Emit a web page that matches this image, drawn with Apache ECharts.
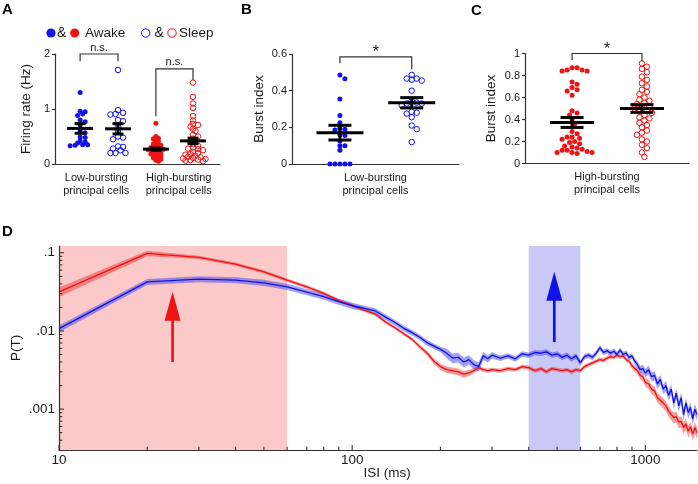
<!DOCTYPE html>
<html><head><meta charset="utf-8">
<script src="https://cdn.jsdelivr.net/npm/echarts@6/dist/echarts.min.js"></script>
<style>html,body{margin:0;padding:0;background:#fff}#c{width:698px;height:484px}</style>
</head><body><div id="c"></div>
<script>
// ---------------- DATA ----------------
const categoriesA = ['Low-bursting\nprincipal cells', 'High-bursting\nprincipal cells'];
const categoriesB = ['Low-bursting\nprincipal cells'];
const categoriesC = ['High-bursting\nprincipal cells'];

// Panel A: firing rate (Hz)
const lowAwakeRate  = [1.3, 0.96, 0.95, 0.91, 0.88, 0.8, 0.77, 0.71, 0.6, 0.57, 0.49, 0.48, 0.42, 0.4, 0.38, 0.35, 0.35, 0.34, 0.33];
const lowSleepRate  = [1.71, 0.98, 0.93, 0.91, 0.9, 0.8, 0.78, 0.68, 0.6, 0.5, 0.48, 0.45, 0.32, 0.31, 0.28, 0.25, 0.2, 0.2, 0.2];
const highAwakeRate = [0.74, 0.5, 0.47, 0.46, 0.43, 0.41, 0.38, 0.37, 0.35, 0.34, 0.33, 0.31, 0.3, 0.3, 0.29, 0.28, 0.27, 0.26, 0.26, 0.25, 0.24, 0.22, 0.21, 0.2, 0.19, 0.18, 0.17, 0.16, 0.15, 0.14, 0.12, 0.11, 0.1, 0.08, 0.07, 0.05];
const highSleepRate = [1.48, 1.22, 1.1, 1.02, 0.87, 0.79, 0.73, 0.71, 0.68, 0.64, 0.6, 0.53, 0.5, 0.46, 0.42, 0.4, 0.36, 0.33, 0.3, 0.28, 0.27, 0.25, 0.22, 0.2, 0.18, 0.17, 0.15, 0.13, 0.12, 0.1, 0.09, 0.07, 0.06, 0.05, 0.08, 0.11];
const rateMean = [0.647, 0.64, 0.27, 0.42];
const rateSem  = [0.088, 0.094, 0.02, 0.05];

// Panel B: burst index, low-bursting cells
const lowAwakeBurst = [0.485, 0.465, 0.355, 0.265, 0.225, 0.195, 0.19, 0.185, 0.16, 0.155, 0.125, 0.1, 0.1, 0.075, 0, 0, 0, 0, 0];
const lowSleepBurst = [0.486, 0.466, 0.46, 0.455, 0.466, 0.4, 0.345, 0.335, 0.33, 0.33, 0.32, 0.285, 0.28, 0.275, 0.255, 0.21, 0.19, 0.12];
const burstLowMean = [0.171, 0.334];
const burstLowSem  = [0.04, 0.028];

// Panel C: burst index, high-bursting cells
const highAwakeBurst = [0.87, 0.87, 0.85, 0.85, 0.84, 0.84, 0.74, 0.72, 0.69, 0.67, 0.66, 0.62, 0.48, 0.46, 0.44, 0.4, 0.36, 0.29, 0.27, 0.24, 0.24, 0.23, 0.22, 0.2, 0.19, 0.18, 0.16, 0.15, 0.14, 0.13, 0.12, 0.12, 0.11, 0.1, 0.1, 0.1, 0.09];
const highSleepBurst = [0.91, 0.88, 0.86, 0.83, 0.79, 0.76, 0.73, 0.7, 0.67, 0.65, 0.63, 0.6, 0.58, 0.57, 0.55, 0.54, 0.52, 0.51, 0.5, 0.48, 0.47, 0.46, 0.44, 0.42, 0.41, 0.39, 0.37, 0.35, 0.33, 0.3, 0.28, 0.26, 0.22, 0.2, 0.17, 0.14, 0.1, 0.06];
const burstHighMean = [0.373, 0.5];
const burstHighSem  = [0.045, 0.035];

// significance brackets: [x1 group, x2 group, top, left end, right end]
const bracketsA = [[0, 1, 2.0, 1.87, 1.87], [2, 3, 1.73, 0.87, 1.53]];
const bracketLabelsA = ['n.s.', 'n.s.'];
const bracketsB = [[0, 1, 0.584, 0.549, 0.517]];
const bracketLabelsB = ['*'];
const bracketsC = [[0, 1, 1.0, 0.94, 0.93]];
const bracketLabelsC = ['*'];

// Panel D: ISI distributions
const isi = [10,20,30,40,50,60,70,80,90,100,110,120,130,140,150,160,170,180,190,200,210,220,230,240,250,260,270,280,290,300,
  320,340,360,380,400,420,440,460,480,500,520,540,560,580,600,620,640,660,680,700,720,740,760,780,800,820,840,860,880,900,920,940,960,980,1000,
  1025,1050,1075,1100,1125,1150,1175,1200,1225,1250,1275,1300,1325,1350,1375,1400,1425,1450,1475,1500];
const pLow = [0.0107,0.0425,0.046,0.0447,0.0413,0.0367,0.0314,0.0275,0.0237,0.021,
  0.0195,0.018,0.015,0.0128,0.0108,0.0095,0.0083,0.0071,0.0064,0.0058,
  0.0052,0.0045,0.0046,0.004,0.0043,0.0037,0.0035,0.0048,0.0044,0.0049,
  0.0045,0.0048,0.0044,0.0051,0.0049,0.0053,0.0052,0.0054,0.0049,0.0051,
  0.0046,0.0049,0.0044,0.0048,0.0039,0.0047,0.0049,0.0046,0.0052,0.0061,
  0.0053,0.0056,0.0052,0.0055,0.005,0.0057,0.005,0.0052,0.0046,0.0048,
  0.0041,0.0037,0.0032,0.0033,0.0029,
  0.0032,0.0026,0.0027,0.0021,0.0024,0.0018,0.002,0.0015,0.0018,0.0012,0.0016,0.0011,0.0014,0.00085,0.0012,0.0009,0.00105,0.00075,0.001,0.00085];
const pHigh = [0.0316,0.098,0.0873,0.0716,0.057,0.0447,0.0365,0.0302,0.0245,0.0212,
  0.0184,0.0164,0.013,0.011,0.0092,0.0078,0.0063,0.0052,0.0041,0.0035,
  0.0032,0.0031,0.003,0.0028,0.0029,0.0031,0.0034,0.0032,0.0031,0.0032,
  0.0031,0.0033,0.0032,0.0035,0.0034,0.0031,0.0033,0.003,0.0033,0.0032,
  0.0031,0.0032,0.003,0.0032,0.0031,0.0035,0.0037,0.0039,0.0041,0.0043,
  0.0042,0.0045,0.0047,0.0046,0.0049,0.0047,0.0048,0.0043,0.0041,0.0036,
  0.0033,0.0031,0.0027,0.0026,0.0022,
  0.0021,0.0018,0.0017,0.0014,0.0013,0.0012,0.0011,0.00095,0.00085,0.00078,0.0008,0.00068,0.0007,0.00058,0.00065,0.00052,0.0006,0.00048,0.00058,0.0005];
// relative SEM (fraction of value)
const semLow = [0.10,0.09,0.09,0.09,0.09,0.09,0.09,0.09,0.09,0.09,
  0.08,0.08,0.08,0.08,0.08,0.08,0.08,0.08,0.08,0.08,
  0.14,0.14,0.14,0.14,0.14,0.14,0.14,0.12,0.1,0.1,
  0.08,0.08,0.08,0.08,0.08,0.08,0.08,0.08,0.08,0.08,
  0.08,0.08,0.08,0.08,0.08,0.08,0.08,0.08,0.08,0.08,
  0.08,0.08,0.08,0.08,0.08,0.08,0.08,0.08,0.08,0.08,
  0.09,0.1,0.11,0.12,0.12,
  0.13,0.13,0.14,0.14,0.14,0.14,0.15,0.15,0.15,0.15,0.15,0.16,0.16,0.16,0.16,0.16,0.16,0.16,0.16,0.16];
const semHigh = [0.14,0.08,0.05,0.05,0.05,0.05,0.05,0.05,0.05,0.05,
  0.05,0.05,0.05,0.05,0.05,0.05,0.06,0.07,0.08,0.09,
  0.1,0.1,0.1,0.1,0.09,0.08,0.07,0.06,0.06,0.06,
  0.06,0.06,0.06,0.06,0.06,0.06,0.06,0.06,0.06,0.06,
  0.06,0.06,0.06,0.06,0.06,0.06,0.06,0.06,0.06,0.06,
  0.06,0.06,0.06,0.06,0.06,0.06,0.06,0.06,0.07,0.08,
  0.09,0.1,0.11,0.12,0.12,
  0.13,0.13,0.14,0.14,0.14,0.15,0.15,0.15,0.15,0.16,0.16,0.16,0.16,0.17,0.17,0.17,0.17,0.17,0.17,0.17];
const shadeRanges = [[10, 60], [400, 600]];
const arrowsD = [[24.4, 0.004, 0.0316], [489, 0.0072, 0.057]];
const xMajorTicks = [10, 100, 1000];
const xTickLabels = ['10', '100', '1000'];
const xMinorTicks = [20,30,40,50,60,70,80,90,200,300,400,500,600,700,800,900];
const yMajorTicks = [0.1, 0.01, 0.001];
const yTickLabels = ['.1', '.01', '.001'];
const yMinorTicks = [0.0004,0.0005,0.0006,0.0007,0.0008,0.0009,0.002,0.003,0.004,0.005,0.006,0.007,0.008,0.009,0.02,0.03,0.04,0.05,0.06,0.07,0.08,0.09];

// ---------------- STYLE / LAYOUT ----------------
const FONT = '"Liberation Sans", Arial, Helvetica, sans-serif';
const TXT = '#1a1a1a', AX = '#333';
const BLUE = '#1212e8', RED = '#ee1414';
const gA = {left: 55, top: 54, width: 165, height: 110};
const gB = {left: 292, top: 54, width: 167, height: 110};
const gC = {left: 525, top: 53.5, width: 164, height: 110};
const gD = {left: 59, top: 246, width: 638, height: 204};
const xrA = [0, 4.4], xrB = [0, 1], xrC = [0, 1];
const yrA = [0, 2], yrB = [0, 0.6], yrC = [0, 1];
const posA = [0.67, 1.68, 2.69, 3.68], posB = [0.287, 0.717], posC = [0.287, 0.713];
const D_XMIN = 10, D_XMAX = 1500, D_YMIN = 0.0003, D_YMAX = 0.122;

function swarm(values, center, g, xr, yr, diam, minF) {
  const ppx = g.width / (xr[1] - xr[0]), ppy = g.height / (yr[1] - yr[0]);
  const order = values.map((v, i) => i).sort((a, b) => values[b] - values[a]);
  const placed = [], out = [];
  const step = diam * 0.5, md2 = Math.pow(diam * minF, 2);
  order.forEach(i => {
    const py = values[i] * ppy; let ox = 0;
    for (let t = 0; t < 120; t++) {
      const k = Math.ceil(t / 2), s = t % 2 === 1 ? 1 : -1;
      ox = t === 0 ? 0 : s * k * step;
      if (placed.every(p => Math.pow(p[0] - ox, 2) + Math.pow(p[1] - py, 2) >= md2)) break;
    }
    placed.push([ox, py]);
    out[i] = [center + ox / ppx, values[i]];
  });
  return out;
}

function dots(values, center, g, xr, yr, xIdx, yIdx, color, filled, size, minF) {
  return {
    type: 'scatter', xAxisIndex: xIdx, yAxisIndex: yIdx, silent: true, z: 3,
    data: swarm(values, center, g, xr, yr, size, minF),
    symbol: 'circle', symbolSize: filled ? size : size + 0.5,
    itemStyle: filled ? {color: color, opacity: 1} : {color: 'rgba(255,255,255,0)', borderColor: color, borderWidth: 1, opacity: 1},
    emphasis: {disabled: true}, animation: false
  };
}

function meanSem(xs, means, sems, xIdx, yIdx, halfW, capW) {
  return {
    type: 'custom', xAxisIndex: xIdx, yAxisIndex: yIdx, silent: true, z: 5, animation: false,
    data: means.map((m, i) => [xs[i], m]),
    renderItem: (p, api) => {
      const i = p.dataIndex;
      const pm = api.coord([xs[i], means[i]]);
      const pu = api.coord([xs[i], means[i] + sems[i]]);
      const pl = api.coord([xs[i], means[i] - sems[i]]);
      const st = {stroke: '#000', lineWidth: 3};
      return {type: 'group', children: [
        {type: 'line', shape: {x1: pm[0] - halfW, y1: pm[1], x2: pm[0] + halfW, y2: pm[1]}, style: st},
        {type: 'line', shape: {x1: pu[0], y1: pu[1], x2: pl[0], y2: pl[1]}, style: st},
        {type: 'line', shape: {x1: pu[0] - capW, y1: pu[1], x2: pu[0] + capW, y2: pu[1]}, style: st},
        {type: 'line', shape: {x1: pl[0] - capW, y1: pl[1], x2: pl[0] + capW, y2: pl[1]}, style: st}
      ]};
    }
  };
}

function brackets(rows, labels, xs, xIdx, yIdx, fs, lift) {
  return {
    type: 'custom', xAxisIndex: xIdx, yAxisIndex: yIdx, silent: true, z: 5, animation: false,
    data: rows.map(r => [xs[r[0]], r[2]]),
    renderItem: (p, api) => {
      const r = rows[p.dataIndex];
      const x1 = xs[r[0]], x2 = xs[r[1]];
      const a = api.coord([x1, r[2]]), b = api.coord([x2, r[2]]);
      const la = api.coord([x1, r[3]]), rb = api.coord([x2, r[4]]);
      return {type: 'group', children: [
        {type: 'polyline', shape: {points: [la, a, b, rb]}, style: {stroke: AX, lineWidth: 1.2, fill: null}},
        {type: 'text', x: (a[0] + b[0]) / 2, y: a[1] - lift,
         style: {text: labels[p.dataIndex], align: 'center', verticalAlign: 'bottom', fontSize: fs, fontFamily: FONT, fill: TXT}}
      ]};
    }
  };
}

function catAxis(gi, cats) {
  return {type: 'category', gridIndex: gi, data: cats, boundaryGap: true,
    axisLine: {show: true, onZero: false, lineStyle: {color: AX, width: 1.2}},
    axisTick: {show: false},
    axisLabel: {color: TXT, fontSize: 11, lineHeight: 13, margin: 7, interval: 0, fontFamily: FONT},
    splitLine: {show: false}};
}
function valX(gi, r) { return {type: 'value', gridIndex: gi, min: r[0], max: r[1], show: false}; }
function valY(gi, r, interval, name, gap) {
  return {type: 'value', gridIndex: gi, min: r[0], max: r[1], interval: interval,
    name: name, nameLocation: 'middle', nameGap: gap,
    nameTextStyle: {fontSize: 13.5, color: TXT, fontFamily: FONT},
    axisLine: {show: true, onZero: false, lineStyle: {color: AX, width: 1.2}},
    axisTick: {show: true, inside: false, length: 3, lineStyle: {color: AX, width: 1.2}},
    axisLabel: {color: TXT, fontSize: 11, margin: 5, fontFamily: FONT},
    splitLine: {show: false}};
}

const chart = echarts.init(document.getElementById('c'), null, {renderer: 'canvas'});

const series = [
  // Panel A
  dots(lowAwakeRate, posA[0], gA, xrA, yrA, 1, 0, BLUE, true, 5, 0.62),
  dots(lowSleepRate, posA[1], gA, xrA, yrA, 1, 0, BLUE, false, 5, 0.8),
  dots(highAwakeRate, posA[2], gA, xrA, yrA, 1, 0, RED, true, 5, 0.5),
  dots(highSleepRate, posA[3], gA, xrA, yrA, 1, 0, RED, false, 5, 0.66),
  meanSem(posA, rateMean, rateSem, 1, 0, 13, 5.5),
  brackets(bracketsA, bracketLabelsA, posA, 1, 0, 11, 1),
  // Panel B
  dots(lowAwakeBurst, posB[0], gB, xrB, yrB, 3, 1, BLUE, true, 5, 0.9),
  dots(lowSleepBurst, posB[1], gB, xrB, yrB, 3, 1, BLUE, false, 5, 0.95),
  meanSem(posB, burstLowMean, burstLowSem, 3, 1, 23.5, 11.5),
  brackets(bracketsB, bracketLabelsB, posB, 3, 1, 16, -4),
  // Panel C
  dots(highAwakeBurst, posC[0], gC, xrC, yrC, 5, 2, RED, true, 5, 0.95),
  dots(highSleepBurst, posC[1], gC, xrC, yrC, 5, 2, RED, false, 5, 0.95),
  meanSem(posC, burstHighMean, burstHighSem, 5, 2, 22, 11.5),
  brackets(bracketsC, bracketLabelsC, posC, 5, 2, 16, -4),
  // Panel D: shaded ranges
  {type: 'custom', xAxisIndex: 6, yAxisIndex: 3, silent: true, z: 1, animation: false,
   data: shadeRanges.map(r => [r[0], D_YMIN]),
   renderItem: (p, api) => {
     const r = shadeRanges[p.dataIndex];
     const a = api.coord([r[0], D_YMAX]), b = api.coord([r[1], D_YMIN]);
     return {type: 'rect', shape: {x: a[0], y: a[1], width: b[0] - a[0], height: b[1] - a[1]},
       style: {fill: p.dataIndex === 0 ? '#fbc9c9' : '#c9c9f7'}};
   }},
  // bands
  {type: 'custom', xAxisIndex: 6, yAxisIndex: 3, silent: true, z: 2, animation: false,
   data: [[isi[0], pHigh[0]]],
   renderItem: (p, api) => {
     const up = isi.map((x, i) => api.coord([x, pHigh[i] * (1 + semHigh[i])]));
     const lo = isi.map((x, i) => api.coord([x, pHigh[i] * (1 - semHigh[i])])).reverse();
     return {type: 'polygon', shape: {points: up.concat(lo)}, style: {fill: 'rgba(238,60,60,0.5)'}};
   }},
  {type: 'custom', xAxisIndex: 6, yAxisIndex: 3, silent: true, z: 2, animation: false,
   data: [[isi[0], pLow[0]]],
   renderItem: (p, api) => {
     const up = isi.map((x, i) => api.coord([x, pLow[i] * (1 + semLow[i])]));
     const lo = isi.map((x, i) => api.coord([x, pLow[i] * (1 - semLow[i])])).reverse();
     return {type: 'polygon', shape: {points: up.concat(lo)}, style: {fill: 'rgba(70,70,235,0.5)'}};
   }},
  {type: 'line', xAxisIndex: 6, yAxisIndex: 3, z: 3, silent: true, animation: false, showSymbol: false,
   data: isi.map((x, i) => [x, pHigh[i]]), lineStyle: {color: RED, width: 1.3}},
  {type: 'line', xAxisIndex: 6, yAxisIndex: 3, z: 3, silent: true, animation: false, showSymbol: false,
   data: isi.map((x, i) => [x, pLow[i]]), lineStyle: {color: BLUE, width: 1.3}},
  // arrows
  {type: 'custom', xAxisIndex: 6, yAxisIndex: 3, silent: true, z: 4, animation: false,
   data: arrowsD.map(a => [a[0], a[2]]),
   renderItem: (p, api) => {
     const a = arrowsD[p.dataIndex];
     const col = p.dataIndex === 0 ? RED : BLUE;
     const p0 = api.coord([a[0], a[1]]), p1 = api.coord([a[0], a[2]]);
     const hl = 29, hw = 8;
     return {type: 'group', children: [
       {type: 'line', shape: {x1: p0[0], y1: p0[1], x2: p1[0], y2: p1[1] + hl - 2}, style: {stroke: col, lineWidth: 2.7}},
       {type: 'polygon', shape: {points: [[p1[0], p1[1]], [p1[0] - hw, p1[1] + hl], [p1[0] + hw, p1[1] + hl]]}, style: {fill: col}}
     ]};
   }},
  // x ticks + labels
  {type: 'custom', xAxisIndex: 6, yAxisIndex: 3, silent: true, z: 6, animation: false,
   data: xMajorTicks.map((v, i) => [v, D_YMIN, i]).concat(xMinorTicks.map(v => [v, D_YMIN, -1])),
   renderItem: (p, api) => {
     const v = api.value(0), li = api.value(2);
     const pt = api.coord([v, D_YMIN]);
     const L = li >= 0 ? 5 : 3.3;
     const ch = [{type: 'line', shape: {x1: pt[0], y1: pt[1], x2: pt[0], y2: pt[1] - L}, style: {stroke: AX, lineWidth: 1.1}}];
     if (li >= 0) ch.push({type: 'text', x: pt[0], y: pt[1] + 3,
       style: {text: xTickLabels[li], align: 'center', verticalAlign: 'top', fontSize: 13.5, fontFamily: FONT, fill: TXT}});
     return {type: 'group', children: ch};
   }},
  // y ticks + labels
  {type: 'custom', xAxisIndex: 6, yAxisIndex: 3, silent: true, z: 6, animation: false,
   data: yMajorTicks.map((v, i) => [D_XMIN, v, i]).concat(yMinorTicks.map(v => [D_XMIN, v, -1])),
   renderItem: (p, api) => {
     const v = api.value(1), li = api.value(2);
     const pt = api.coord([D_XMIN, v]);
     const L = li >= 0 ? 5 : 3.3;
     const ch = [{type: 'line', shape: {x1: pt[0], y1: pt[1], x2: pt[0] + L, y2: pt[1]}, style: {stroke: AX, lineWidth: 1.1}}];
     if (li >= 0) ch.push({type: 'text', x: pt[0] - 4, y: pt[1],
       style: {text: yTickLabels[li], align: 'right', verticalAlign: 'middle', fontSize: 13.5, fontFamily: FONT, fill: TXT}});
     return {type: 'group', children: ch};
   }}
];

const legendY = 33;
const option = {
  animation: false,
  backgroundColor: '#fff',
  textStyle: {fontFamily: FONT},
  grid: [gA, gB, gC, gD].map(g => Object.assign({containLabel: false}, g)),
  xAxis: [
    catAxis(0, categoriesA), valX(0, xrA),
    catAxis(1, categoriesB), valX(1, xrB),
    catAxis(2, categoriesC), valX(2, xrC),
    {type: 'log', gridIndex: 3, logBase: 10, min: D_XMIN, max: D_XMAX, z: 10,
     axisLine: {show: true, onZero: false, lineStyle: {color: AX, width: 1.2}},
     axisTick: {show: false}, axisLabel: {show: false}, splitLine: {show: false}, minorTick: {show: false},
     name: 'ISI (ms)', nameLocation: 'middle', nameGap: 16,
     nameTextStyle: {fontSize: 13.5, color: TXT, fontFamily: FONT, padding: [0, 0, 0, 18]}}
  ],
  yAxis: [
    valY(0, yrA, 1, 'Firing rate (Hz)', 22),
    valY(1, yrB, 0.2, 'Burst index', 26),
    valY(2, yrC, 0.2, 'Burst index', 27),
    {type: 'log', gridIndex: 3, logBase: 10, min: D_YMIN, max: D_YMAX, z: 10,
     axisLine: {show: true, onZero: false, lineStyle: {color: AX, width: 1.2}},
     axisTick: {show: false}, axisLabel: {show: false}, splitLine: {show: false}, minorTick: {show: false},
     name: 'P(T)', nameLocation: 'middle', nameGap: 36,
     nameTextStyle: {fontSize: 13.5, color: TXT, fontFamily: FONT}}
  ],
  graphic: [
    {type: 'text', left: 2, top: 2, style: {text: 'A', fontSize: 15, fontWeight: 'bold', fontFamily: FONT, fill: '#000'}},
    {type: 'text', left: 241, top: 2, style: {text: 'B', fontSize: 15, fontWeight: 'bold', fontFamily: FONT, fill: '#000'}},
    {type: 'text', left: 471, top: 3, style: {text: 'C', fontSize: 15, fontWeight: 'bold', fontFamily: FONT, fill: '#000'}},
    {type: 'text', left: 2, top: 224, style: {text: 'D', fontSize: 15, fontWeight: 'bold', fontFamily: FONT, fill: '#000'}},
    {type: 'circle', shape: {cx: 51, cy: legendY, r: 4.6}, style: {fill: BLUE}},
    {type: 'text', x: 57, y: legendY, style: {text: '&', fontSize: 14, fontFamily: FONT, fill: TXT, verticalAlign: 'middle'}},
    {type: 'circle', shape: {cx: 74.7, cy: legendY, r: 4.6}, style: {fill: RED}},
    {type: 'text', x: 85, y: legendY + 0.5, style: {text: 'Awake', fontSize: 13.5, fontFamily: FONT, fill: TXT, verticalAlign: 'middle'}},
    {type: 'circle', shape: {cx: 145.7, cy: legendY, r: 4.2}, style: {fill: 'none', stroke: BLUE, lineWidth: 1}},
    {type: 'text', x: 154.5, y: legendY, style: {text: '&', fontSize: 14, fontFamily: FONT, fill: TXT, verticalAlign: 'middle'}},
    {type: 'circle', shape: {cx: 172, cy: legendY, r: 4.2}, style: {fill: 'none', stroke: RED, lineWidth: 1}},
    {type: 'text', x: 179, y: legendY + 0.5, style: {text: 'Sleep', fontSize: 13.5, fontFamily: FONT, fill: TXT, verticalAlign: 'middle'}}
  ],
  series: series
};
chart.setOption(option);
</script>
</body></html>
